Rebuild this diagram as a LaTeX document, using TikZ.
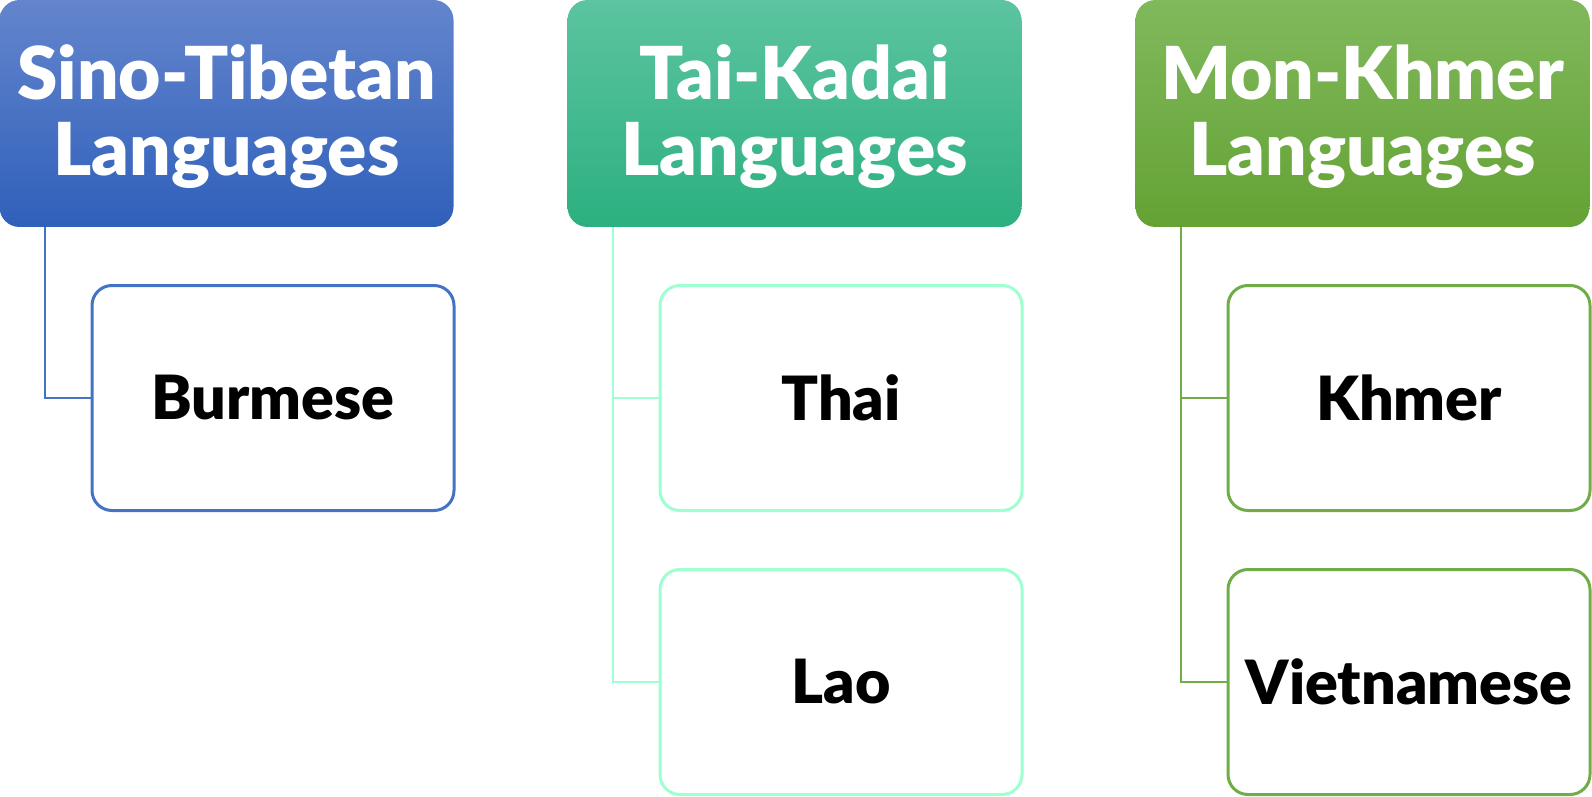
\documentclass[tikz,border=0pt]{standalone}
\usepackage{fontspec}
\IfFontExistsTF{Lato Black}{\setmainfont{Lato Black}}{\setmainfont{Lato}[UprightFont=* Bold]}
\usetikzlibrary{positioning}
\definecolor{sinoA}{RGB}{100,133,205}
\definecolor{sinoB}{RGB}{47,96,186}
\definecolor{sinoL}{RGB}{68,114,196}
\definecolor{taiA}{RGB}{92,196,160}
\definecolor{taiB}{RGB}{44,176,128}
\definecolor{taiL}{RGB}{158,255,208}
\definecolor{monA}{RGB}{128,185,92}
\definecolor{monB}{RGB}{100,162,52}
\definecolor{monL}{RGB}{112,173,71}
\tikzstyle{H} = [rectangle,
			rounded corners=10pt, inner sep=0pt,
			minimum width=227pt, minimum height=113.5pt,
			text=white, align=center, text depth=3.5pt,
			font=\fontsize{36.5}{38}\selectfont]
\tikzstyle{K} = [rectangle,
			draw, line width=1.5pt, fill=white,
			rounded corners=10pt, inner sep=0pt,
			minimum width=181pt, minimum height=112.5pt,
			font=\fontsize{30.5}{32}\selectfont]
\tikzstyle{L} = [draw, line width=1pt]

\begin{document}
\begin{tikzpicture}[node distance=284pt]

\useasboundingbox (0,0) rectangle (796pt,-398.5pt);

\node [H, top color=sinoA, bottom color=sinoB] at (113.25pt,-56.75pt)
(sino)
	{Sino-Tibetan\\Languages};

\node [H, top color=taiA, bottom color=taiB, right of =sino]
(tai)
	{Tai-Kadai\\Languages};

\node [H, top color=monA, bottom color=monB, right of =tai]
(mon)
	{Mon-Khmer\\Languages};

\node [K, draw=sinoL, below of =sino, node distance =142.25pt, xshift=23.25pt]
(burm)
	{Burmese};

\node [K, draw=taiL, below of =tai, node distance =142.25pt, xshift=23.25pt]
(thai)
	{Thai};

\node [K, draw=taiL, below of =thai, node distance =142pt]
(lao)
	{Lao};

\node [K, draw=monL, below of =mon, node distance =142.25pt, xshift=23.25pt]
(khm)
	{Khmer};

\node [K, draw=monL, below of =khm, node distance =142pt]
(viet)
	{Vietnamese};

\path[L, sinoL] ([xshift=23pt]sino.south west) |- (burm.west);

\path[L, taiL] ([xshift=23pt]tai.south west) |- (lao.west);

\path[L, taiL] ([xshift=23pt]tai.south west |- thai.west) -- (thai.west);

\path[L, monL] ([xshift=23pt]mon.south west) |- (viet.west);

\path[L, monL] ([xshift=23pt]mon.south west |- khm.west) -- (khm.west);

\end{tikzpicture}
\end{document}
